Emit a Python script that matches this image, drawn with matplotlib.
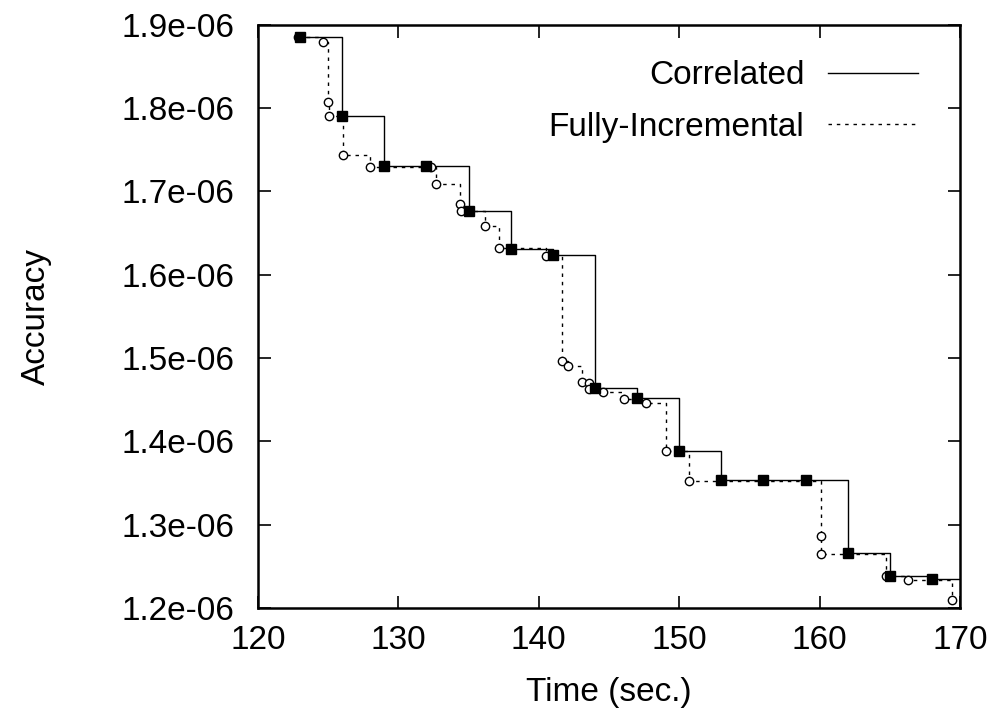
import matplotlib
matplotlib.use("Agg")
import matplotlib.pyplot as plt
from matplotlib.ticker import FuncFormatter

plt.rcParams['font.family'] = ['Liberation Sans', 'DejaVu Sans']

# Correlated series (time, accuracy)
corr_time = [123, 126, 129, 132, 135, 138, 141, 144, 147, 150, 153, 156, 159, 162, 165, 168, 171]
corr_acc = [1.8856e-06, 1.791e-06, 1.7305e-06, 1.7305e-06, 1.677e-06, 1.6315e-06, 1.6235e-06,
            1.464e-06, 1.452e-06, 1.389e-06, 1.3535e-06, 1.3535e-06, 1.3535e-06, 1.2655e-06,
            1.2385e-06, 1.235e-06, 1.215e-06]

# Fully-Incremental series (time, accuracy)
inc_time = [122.83, 124.65, 124.96, 125.06, 126.05, 128.0, 132.3, 132.7, 134.36, 134.45,
            136.17, 137.14, 140.5, 141.63, 142.1, 143.1, 143.6, 143.6, 144.56, 146.1,
            147.6, 149.04, 150.7, 160.1, 160.08, 164.73, 166.3, 169.4]
inc_acc = [1.886e-06, 1.880e-06, 1.807e-06, 1.791e-06, 1.744e-06, 1.7296e-06, 1.7296e-06,
           1.709e-06, 1.685e-06, 1.677e-06, 1.659e-06, 1.6316e-06, 1.623e-06, 1.497e-06,
           1.491e-06, 1.471e-06, 1.470e-06, 1.463e-06, 1.459e-06, 1.451e-06, 1.446e-06,
           1.3884e-06, 1.353e-06, 1.287e-06, 1.265e-06, 1.2388e-06, 1.2336e-06, 1.2096e-06]

x_ticks = [120, 130, 140, 150, 160, 170]
y_ticks = [1.2e-06, 1.3e-06, 1.4e-06, 1.5e-06, 1.6e-06, 1.7e-06, 1.8e-06, 1.9e-06]

FS = 24

fig = plt.figure(figsize=(10, 7.17), dpi=100)
ax = fig.add_axes([0.258, 0.152, 0.702, 0.8133])

# step lines
l1, = ax.plot(corr_time, corr_acc, drawstyle='steps-post', color='black', lw=1.0,
              label='Correlated')
l2, = ax.plot(inc_time, inc_acc, drawstyle='steps-post', color='black', lw=1.0,
              linestyle=(0, (2.5, 3.5)), label='Fully-Incremental')
# markers
ax.plot(inc_time, inc_acc, linestyle='none', marker='o', markersize=6,
        markerfacecolor='white', markeredgecolor='black', markeredgewidth=1.0)
ax.plot(corr_time, corr_acc, linestyle='none', marker='s', markersize=7,
        color='black')

ax.set_xlim(120, 170)
ax.set_ylim(1.2e-06, 1.9e-06)
ax.set_xticks(x_ticks)
ax.set_yticks(y_ticks)
ax.yaxis.set_major_formatter(FuncFormatter(lambda v, p: ('%.1e' % v)))
ax.tick_params(direction='in', length=9, width=1.2, labelsize=FS,
               top=True, right=True)
ax.tick_params(axis='y', pad=17)
ax.tick_params(axis='x', pad=12)
for s in ax.spines.values():
    s.set_linewidth(1.8)

ax.set_xlabel('Time (sec.)', fontsize=FS, labelpad=15)
ax.set_ylabel('Accuracy', fontsize=FS, labelpad=50)

leg = ax.legend(handles=[l1, l2], loc='upper right', bbox_to_anchor=(0.9587, 0.962),
                frameon=False, fontsize=FS, markerfirst=False, handlelength=2.7,
                handletextpad=0.7, borderaxespad=0.0, labelspacing=0.62)

fig.savefig('out.png', dpi=100)
